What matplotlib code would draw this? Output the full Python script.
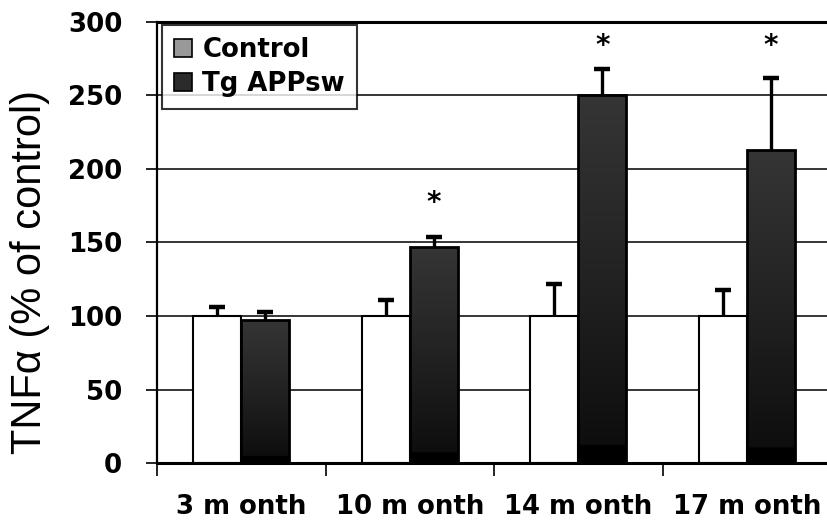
import numpy as np
import matplotlib
matplotlib.use("Agg")
import matplotlib.pyplot as plt
from matplotlib.colors import LinearSegmentedColormap
from matplotlib.patches import Patch

# Data: TNF-alpha levels as % of age-matched control
ages = ["3 m onth", "10 m onth", "14 m onth", "17 m onth"]
control = [100, 100, 100, 100]
control_err = [6, 11, 22, 18]
tg = [97, 147, 250, 213]
tg_err = [6, 7, 18, 49]
sig_y = [None, 177, 284, 284]   # asterisk heights (significant vs control)
yticks = [0, 50, 100, 150, 200, 250, 300]

W, H, DPI = 827, 525, 100
fig = plt.figure(figsize=(W / DPI, H / DPI), dpi=DPI)
ax = fig.add_axes([157 / W, 62 / H, 670 / W, 441 / H])

bw = 0.285
x = np.arange(len(ages))

# gradient for transgenic bars: dark grey at top fading to black, black foot
grad_cmap = LinearSegmentedColormap.from_list(
    "bar_grad", [(0.0, "#000000"), (0.045, "#000000"), (0.05, "#0e0e0e"),
                 (0.5, "#222222"), (1.0, "#353535")])

ax.set_axisbelow(True)
ax.yaxis.grid(True, color="black", linewidth=1.1)

ax.bar(x - bw / 2, control, width=bw, color="white", edgecolor="black",
       linewidth=1.5, zorder=2)
tg_bars = ax.bar(x + bw / 2, tg, width=bw, color="none", edgecolor="black",
                 linewidth=2.0, zorder=3)

grad = np.linspace(0, 1, 256).reshape(-1, 1)
for rect in tg_bars:
    x0, y0 = rect.get_x(), rect.get_y()
    w, h = rect.get_width(), rect.get_height()
    im = ax.imshow(grad, cmap=grad_cmap, origin="lower", aspect="auto",
                   extent=(x0, x0 + w, y0, y0 + h), zorder=2.5,
                   interpolation="bilinear")
    im.set_clip_path(rect)


def upper_errorbars(xs, ys, errs):
    """One-sided (upward) error bars with a cap only at the top."""
    _, caps, _ = ax.errorbar(xs, ys, yerr=[np.zeros(len(ys)), errs],
                             fmt="none", ecolor="black", elinewidth=2.4,
                             capsize=6, capthick=3.2, zorder=4)
    for cap in caps:
        if np.allclose(cap.get_ydata(), ys):
            cap.set_visible(False)


upper_errorbars(x - bw / 2, control, control_err)
upper_errorbars(x + bw / 2, tg, tg_err)

for xi, sy in zip(x, sig_y):
    if sy is not None:
        ax.text(xi + bw / 2, sy, "*", ha="center", va="center",
                fontsize=20, fontweight="bold", family="DejaVu Sans")

ax.set_xlim(-0.5, -0.5 + 670 / 168.5)
ax.set_ylim(0, 300)

tick_font = dict(family="DejaVu Sans", weight="bold", size=18.7)
ax.set_yticks(yticks)
ax.set_yticklabels([str(v) for v in yticks], **tick_font)
ax.tick_params(axis="y", direction="out", length=8, width=1.2, pad=17)

ax.set_xticks(x)
ax.set_xticklabels(ages, **tick_font)
ax.set_xticks(np.arange(len(ages)) - 0.5, minor=True)
ax.tick_params(axis="x", which="major", length=0, pad=22)
ax.tick_params(axis="x", which="minor", direction="out", length=9, width=1.2)

ax.spines["right"].set_visible(False)
ax.spines["top"].set_linewidth(2.2)
ax.spines["left"].set_linewidth(1.6)
ax.spines["bottom"].set_linewidth(2.2)

ax.set_ylabel("TNFα (% of control)", family="Liberation Sans", size=30)
ax.yaxis.label.set_va("center")
ax.yaxis.set_label_coords((30 - 157) / 670, (463 - 272) / 441)

handles = [Patch(facecolor="#999999", edgecolor="black", linewidth=1.2),
           Patch(facecolor="#2b2b2b", edgecolor="black", linewidth=1.2)]
leg = ax.legend(handles, ["Control", "Tg APPsw"], loc="upper left",
                bbox_to_anchor=((162 - 157) / 670, (463 - 25.5) / 441),
                borderaxespad=0, prop=tick_font, frameon=True, fancybox=False,
                handlelength=0.7, handleheight=0.7, handletextpad=0.4,
                labelspacing=0.3, borderpad=0.45)
leg.get_frame().set_edgecolor("black")
leg.get_frame().set_linewidth(1.5)
leg.set_zorder(6)

fig.savefig("out.png", dpi=DPI)
